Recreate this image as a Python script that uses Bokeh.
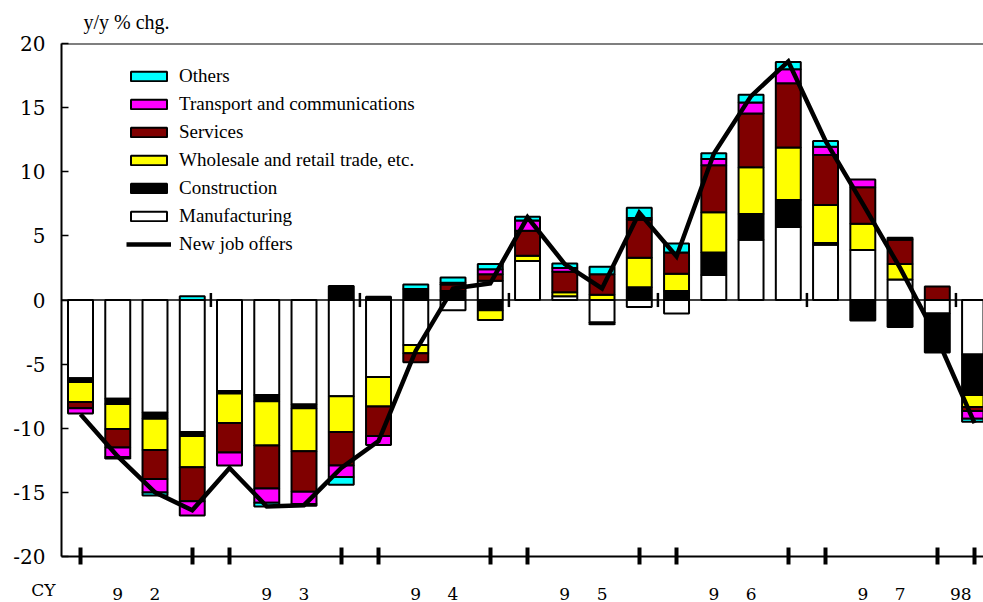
import numpy as np
from bokeh.plotting import figure
from bokeh.models import (ColumnDataSource, Range1d, FixedTicker, Span, Label,
                          Legend, LegendItem)
from bokeh.embed import file_html
from bokeh.resources import INLINE

# ---------------- data (y/y % change, contributions) ----------------
quarters = ["92Q1", "92Q2", "92Q3", "92Q4",
            "93Q1", "93Q2", "93Q3", "93Q4",
            "94Q1", "94Q2", "94Q3", "94Q4",
            "95Q1", "95Q2", "95Q3", "95Q4",
            "96Q1", "96Q2", "96Q3", "96Q4",
            "97Q1", "97Q2", "97Q3", "97Q4",
            "98Q1"]

manufacturing = [-6.1, -7.7, -8.8, -10.3, -7.1, -7.4, -8.15, -7.5,
                 -6.0, -3.5, -0.8, 1.5, 3.05, 0.3, -1.75, -0.55,
                 -1.05, 1.95, 4.7, 5.7, 4.3, 3.9, 1.6, -1.05, -4.25]
construction = [-0.3, -0.4, -0.45, -0.3, -0.2, -0.5, -0.3, 1.1,
                0.25, 0.85, 0.7, -0.8, 0.0, 0.0, -0.15, 1.0,
                0.7, 1.75, 2.0, 2.1, 0.15, -1.6, -2.1, -3.05, -3.15]
wholesale = [-1.55, -1.95, -2.45, -2.45, -2.3, -3.45, -3.35, -2.8,
             -2.3, -0.65, 0.0, -0.75, 0.4, 0.3, 0.4, 2.3,
             1.35, 3.15, 3.65, 4.1, 2.95, 2.05, 1.2, 0.0, -0.95]
services = [-0.5, -1.45, -2.25, -2.65, -2.3, -3.35, -3.15, -2.6,
            -2.3, -0.7, 0.5, 0.5, 1.95, 1.6, 1.6, 2.95,
            1.65, 3.65, 4.2, 5.0, 3.9, 2.85, 1.9, 1.05, -0.3]
transport = [-0.4, -0.75, -1.05, -1.1, -1.0, -1.1, -0.95, -0.9,
             -0.7, 0.0, 0.15, 0.4, 0.8, 0.3, 0.0, 0.15,
             0.0, 0.5, 0.85, 1.1, 0.65, 0.6, 0.15, 0.0, -0.6]
others = [0.0, -0.1, -0.25, 0.3, 0.0, -0.3, -0.15, -0.6,
          0.0, 0.35, 0.4, 0.4, 0.3, 0.35, 0.6, 0.8,
          0.7, 0.45, 0.6, 0.55, 0.45, 0.0, 0.0, 0.0, -0.25]
new_job_offers = [-8.9, -12.2, -15.0, -16.4, -13.1, -16.1, -16.0, -13.1,
                  -11.0, -3.95, 0.9, 1.3, 6.45, 2.8, 0.9, 6.8,
                  3.4, 11.4, 15.9, 18.6, 12.4, 7.5, 2.5, -3.0, -9.6]

y_ticks = [-20, -15, -10, -5, 0, 5, 10, 15, 20]
# year labels split over two quarters ("9" | "2"), last one "98"
x_label_quarters = ["92Q2", "92Q3", "93Q2", "93Q3", "94Q2", "94Q3",
                    "95Q2", "95Q3", "96Q2", "96Q3", "97Q2", "97Q3", "98Q1"]
x_label_texts = ["9", "2", "9", "3", "9", "4", "9", "5", "9", "6", "9", "7", "98"]
axis_mark_quarters = ["Q1", "Q4"]

series = [
    ("Manufacturing", manufacturing, "#FFFFFF"),
    ("Construction", construction, "#000000"),
    ("Wholesale and retail trade, etc.", wholesale, "#FFFF00"),
    ("Services", services, "#800000"),
    ("Transport and communications", transport, "#FF00FF"),
    ("Others", others, "#00FFFF"),
]

# ---------------- figure ----------------
n = len(quarters)
idx = np.arange(n, dtype=float)

p = figure(width=983, height=602, output_backend="svg", toolbar_location=None,
           title=None,
           x_range=Range1d(-0.51, 24.24), y_range=Range1d(-20, 20),
           min_border_left=61, min_border_right=0, min_border_top=43,
           min_border_bottom=46, background_fill_color="white",
           border_fill_color="white", outline_line_color=None)
p.xgrid.visible = False
p.ygrid.visible = False

pos = np.zeros(n)
neg = np.zeros(n)
rend = {}
for name, vals, color in series:
    v = np.array(vals, dtype=float)
    bottom = np.where(v >= 0, pos, neg)
    top = bottom + v
    pos = np.where(v >= 0, top, pos)
    neg = np.where(v < 0, top, neg)
    keep = v != 0
    src = ColumnDataSource(dict(x=idx[keep], top=top[keep], bottom=bottom[keep]))
    rend[name] = p.vbar(x="x", top="top", bottom="bottom", width=0.67, source=src,
                        fill_color=color, line_color="black", line_width=2)

# zero line and year separators on it
p.add_layout(Span(location=0, dimension="width", line_color="black", line_width=1.5))
year_bounds = [i + 0.5 for i, q in enumerate(quarters[:-1]) if q.endswith("Q4")]
p.segment(x0=year_bounds, y0=[-0.55] * len(year_bounds), x1=year_bounds,
          y1=[0.55] * len(year_bounds), line_color="black", line_width=2.5)

line_r = p.line(idx, new_job_offers, line_color="black", line_width=4.5,
                line_join="miter")

# top frame line
p.add_layout(Span(location=20, dimension="width", line_color="black", line_width=2))

# ---------------- axes ----------------
ya = p.yaxis[0]
ya.ticker = FixedTicker(ticks=y_ticks)
ya.major_label_overrides = {t: str(t) for t in y_ticks}
ya.axis_line_width = 2
ya.major_tick_in = 7
ya.major_tick_out = 0
ya.major_tick_line_width = 1.5
ya.minor_tick_line_color = None
ya.major_label_standoff = 16
ya.major_label_text_font = "DejaVu Serif"
ya.major_label_text_font_size = "20px"
ya.major_label_text_color = "black"

label_pos = [quarters.index(q) for q in x_label_quarters]
label_pos[-1] = label_pos[-1] - 0.37   # last label nudged in from the edge
mark_pos = [i for i, q in enumerate(quarters) if q[2:] in axis_mark_quarters]
xa = p.xaxis[0]
xa.ticker = FixedTicker(ticks=label_pos, minor_ticks=mark_pos)
xa.major_label_overrides = {t: s for t, s in zip(label_pos, x_label_texts)}
xa.axis_line_width = 2
xa.major_tick_line_color = None
xa.major_tick_in = 0
xa.major_tick_out = 0
xa.minor_tick_in = 9
xa.minor_tick_out = 8
xa.minor_tick_line_width = 4
xa.minor_tick_line_color = "black"
xa.major_label_standoff = 23
xa.major_label_text_font = "DejaVu Serif"
xa.major_label_text_font_size = "17px"
xa.major_label_text_color = "black"

# texts outside the frame, kept in a side panel so they are not clipped
p.add_layout(Label(x=0, y=20, x_offset=3, y_offset=22, text="y/y % chg.",
                   text_align="left", text_baseline="middle",
                   text_font="Liberation Serif", text_font_size="20px",
                   text_color="black"), "above")
p.add_layout(Label(x=-1.0, y=-20, y_offset=-23, text="CY",
                   text_align="center", text_baseline="top",
                   text_font="DejaVu Serif", text_font_size="17px",
                   text_color="black"), "above")

# ---------------- legend ----------------
items = [LegendItem(label=name, renderers=[rend[name]]) for name in
         ["Others", "Transport and communications", "Services",
          "Wholesale and retail trade, etc.", "Construction", "Manufacturing"]]
items.append(LegendItem(label="New job offers", renderers=[line_r]))
legend = Legend(items=items, location=(65, 301), padding=0, margin=0,
                spacing=6, label_height=21, glyph_height=12, glyph_width=45,
                label_standoff=8, label_text_font="Liberation Serif",
                label_text_font_size="19px", label_text_color="black",
                background_fill_alpha=0, border_line_color=None)
p.add_layout(legend)

open("out.html", "w").write(file_html(p, INLINE))
